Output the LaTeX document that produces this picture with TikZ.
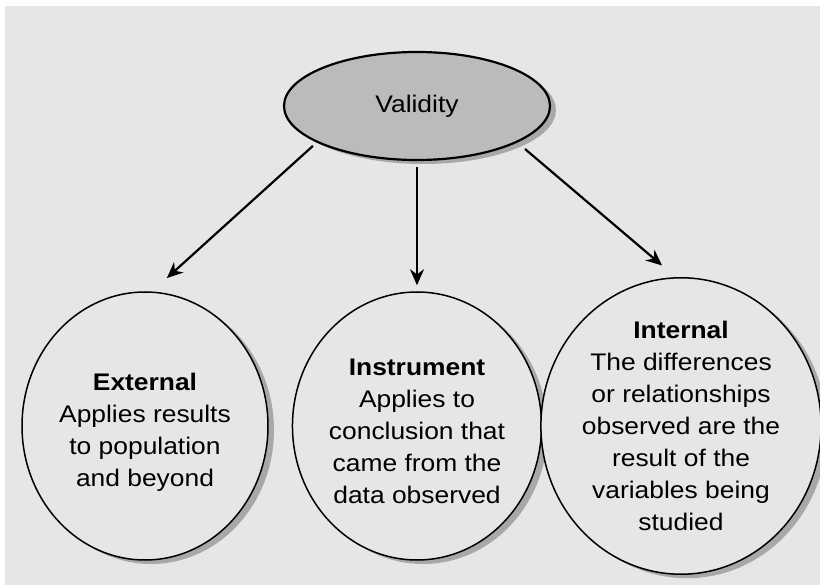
\documentclass[tikz,border=0pt]{standalone}
\usepackage{fontspec}
\setmainfont{Liberation Sans}[FakeStretch=1.1]
\usetikzlibrary{shapes.geometric,arrows.meta,shadows}
\definecolor{panegray}{HTML}{E6E6E6}
\definecolor{ovalfill}{HTML}{BBBBBB}
\definecolor{shadowc}{HTML}{A8A8A8}
\begin{document}
\begin{tikzpicture}[x=1pt,y=-1pt,
  oval/.style={ellipse, draw=black, line width=1.8pt, inner sep=0pt,
    general shadow={shadow xshift=6pt, shadow yshift=-4pt, fill=shadowc}},
  topoval/.style={oval, line width=2.2pt, fill=ovalfill, minimum width=266pt, minimum height=108pt,
    font=\fontsize{24}{28}\selectfont},
  circ/.style={oval, line width=1.5pt, fill=panegray, minimum width=246pt, minimum height=268pt,
    align=center, font=\fontsize{24}{32}\selectfont},
  conn/.style={-{Stealth[length=16pt,width=14pt]}, line width=2.2pt}]
\path[use as bounding box, fill=white] (0,0) rectangle (820,585);
\fill[panegray] (5,6) rectangle (820,585);
\node[topoval] (v) at (417,106) {Validity};
\node[circ] (ext) at (145,426) {\rule{0pt}{30pt}\textbf{External}\\Applies results\\to population\\and beyond};
\node[circ] (ins) at (417,426) {\rule{0pt}{28pt}\textbf{Instrument}\\Applies to\\conclusion that\\came from the\\data observed};
\node[circ, minimum width=248pt] (int) at (681,426) {\textbf{Internal}\\The differences\\or relationships\\observed are the\\result of the\\variables being\\studied};
\draw[conn, shorten <=5pt, shorten >=20pt] (v.-160) -- (ext.87);
\draw[conn, shorten <=6pt, shorten >=6pt] (v.south) -- (ins.north);
\draw[conn, shorten <=10pt, shorten >=18pt] (v.-20) -- (int.92);
\end{tikzpicture}
\end{document}
